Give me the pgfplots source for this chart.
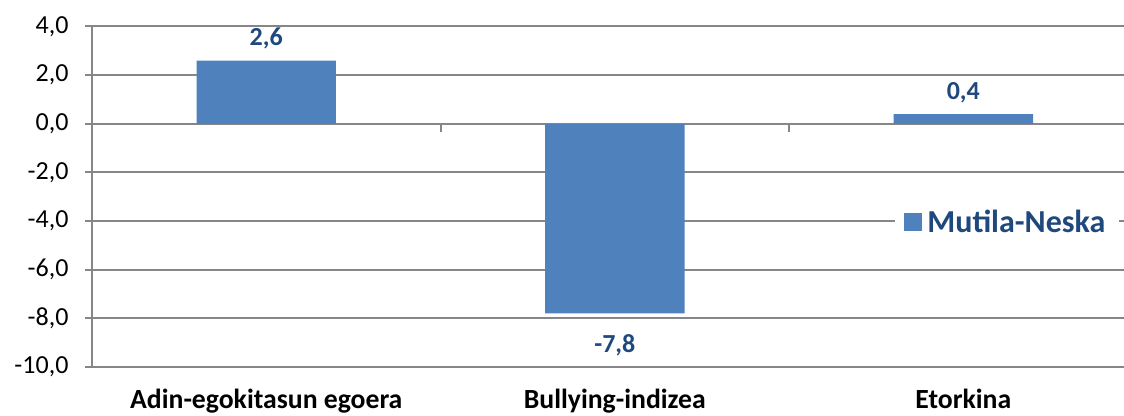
\documentclass[border=0pt]{standalone}
\usepackage{fontspec}
\setmainfont{Carlito}
\usepackage{pgfplots}
\pgfplotsset{compat=1.18}

\definecolor{barblue}{HTML}{4F81BD}
\definecolor{labelblue}{HTML}{1F497D}
\definecolor{gridgray}{HTML}{868686}

\begin{document}
\begin{tikzpicture}
\path[use as bounding box] (0,0) rectangle (1124bp,416bp);
\clip (0,0) rectangle (1124bp,416bp);
\begin{axis}[
    at={(92bp,49bp)}, anchor=south west,
    scale only axis,
    width=1032bp, height=340.5bp,
    ybar, bar width=0.4,
    xmin=-0.5, xmax=2.461,
    ymin=-10, ymax=4,
    ytick={-10,-8,...,4},
    xtick={0,1,2},
    xticklabels={Adin-egokitasun egoera, Bullying-indizea, Etorkina},
    axis x line*=bottom,
    axis y line*=left,
    x axis line style={draw=none},
    y axis line style={gridgray, line width=2bp, -},
    xtick style={draw=none},
    ytick style={gridgray, line width=2bp},
    tick align=outside,
    major tick length=7bp,
    ymajorgrids,
    grid style={gridgray, line width=2bp},
    yticklabel style={font=\fontsize{26bp}{29bp}\selectfont, black, xshift=-13bp},
    xticklabel style={font=\fontsize{27.7bp}{30bp}\selectfont\bfseries, black, yshift=-12bp},
    /pgf/number format/.cd, fixed, fixed zerofill, precision=1, use comma, assume math mode=true,
    /pgfplots/.cd,
    visualization depends on={rawy \as \rawy},
    nodes near coords={\pgfmathprintnumber[fixed,fixed zerofill,precision=1,use comma,assume math mode=true]{\pgfplotspointmeta}},
    every node near coord/.append style={font=\fontsize{26bp}{30bp}\selectfont\bfseries, text=labelblue, anchor=base, inner sep=0pt, yshift={\rawy>0?15:-39}},
    legend style={at={(0.887,0.426)}, anchor=center, draw=none, fill=white,
        font=\fontsize{32bp}{35bp}\selectfont\bfseries, text=labelblue,
        inner xsep=9bp, inner ysep=4bp},
    legend image code/.code={\fill[barblue] (-4bp,-9bp) rectangle (14bp,9bp);},
    legend style={nodes={inner xsep=5bp}},
]
\addplot[fill=barblue, draw=none] coordinates {(0,2.6) (1,-7.8) (2,0.4)};
\legend{Mutila-Neska}
\draw[gridgray, line width=2bp] (axis cs:0.5,0) -- ++(0pt,-8bp);
\draw[gridgray, line width=2bp] (axis cs:1.5,0) -- ++(0pt,-8bp);
\end{axis}
\end{tikzpicture}
\end{document}
